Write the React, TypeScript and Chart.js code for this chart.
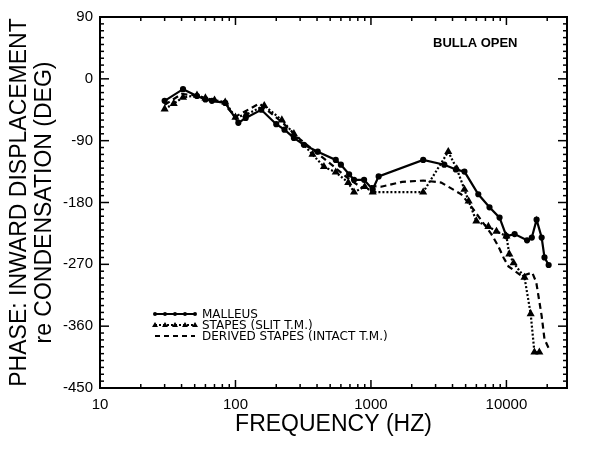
import React, { useEffect, useRef } from "react";
import { Chart, registerables } from "chart.js";

Chart.register(...registerables);

// ---- data (frequency in Hz, phase in degrees) ----
const malleusFreq = [30, 41, 52, 60, 67, 84, 105, 119, 155, 200, 230, 270, 320, 405, 550, 600, 690, 750, 890, 1030, 1140, 2430, 3480, 4240, 4900, 6200, 7500, 8900, 10000, 11500, 14200, 15400, 16700, 18200, 19100, 20500];
const malleusPhase = [-32, -15, -25, -30, -32, -35, -64, -57, -45, -66, -74, -86, -96, -106, -118, -125, -139, -147, -147, -161, -142, -118, -125, -132, -135, -168, -187, -202, -229, -226, -235, -231, -205, -231, -260, -271];

const stapesFreq = [30, 35, 41, 52, 60, 70, 84, 100, 120, 163, 220, 270, 370, 450, 550, 680, 750, 900, 1030, 2430, 3720, 4300, 4900, 5260, 6000, 7360, 8440, 10000, 10500, 11300, 13600, 15100, 16100, 17500];
const stapesPhase = [-44, -36, -27, -24, -28, -31, -34, -56, -52, -39, -60, -80, -110, -128, -136, -151, -165, -157, -165, -165, -106, -131, -161, -178, -207, -215, -222, -229, -255, -268, -289, -342, -398, -398];

const derivedFreq = [30, 40, 50, 60, 80, 100, 150, 220, 300, 400, 550, 700, 850, 1000, 1190, 1700, 2430, 3300, 4640, 5510, 7740, 8730, 9510, 10350, 13000, 15500, 16600, 18200, 19100, 20500];
const derivedPhase = [-38, -22, -24, -28, -34, -55, -36, -63, -88, -108, -130, -147, -158, -156, -157, -150, -148, -151, -168, -186, -226, -244, -260, -273, -287, -282, -296, -345, -379, -392];

const seriesNames = ["MALLEUS", "STAPES (SLIT T.M.)", "DERIVED STAPES (INTACT T.M.)"];
const xTickLabels = [10, 100, 1000, 10000];
const yTickValues = [90, 0, -90, -180, -270, -360, -450];
const annotationText = "BULLA OPEN";
const yTitle = ["PHASE: INWARD DISPLACEMENT", "re CONDENSATION (DEG)"];
const xTitle = "FREQUENCY (HZ)";

const toPoints = (xs: number[], ys: number[]) => xs.map((x, i) => ({ x, y: ys[i] }));

const FONT = "'Liberation Sans', Arial, sans-serif";

const framePlugin = {
  id: "frameTicks",
  afterDraw(chart: any) {
    const ctx = chart.ctx;
    const xs = chart.scales.x;
    const ys = chart.scales.y;
    const { left, right, top, bottom } = chart.chartArea;
    ctx.save();
    ctx.strokeStyle = "#000";
    ctx.lineWidth = 2;
    ctx.strokeRect(left, top, right - left, bottom - top);
    ctx.lineWidth = 1.5;
    const line = (x1: number, y1: number, x2: number, y2: number) => {
      ctx.beginPath();
      ctx.moveTo(x1, y1);
      ctx.lineTo(x2, y2);
      ctx.stroke();
    };
    for (let d = 1; d <= 4; d++) {
      for (let m = 1; m <= 9; m++) {
        const v = m * Math.pow(10, d);
        if (v < xs.min || v > xs.max) continue;
        const px = xs.getPixelForValue(v);
        const len = m === 1 ? 8 : 4;
        line(px, bottom, px, bottom - len);
        line(px, top, px, top + len);
      }
    }
    for (let v = -450; v <= 90; v += 10) {
      const py = ys.getPixelForValue(v);
      const len = v % 90 === 0 ? 9 : 4;
      line(left, py, left + len, py);
      line(right, py, right - len, py);
    }
    // annotation
    ctx.fillStyle = "#000";
    ctx.font = `bold 13px ${FONT}`;
    ctx.textBaseline = "middle";
    ctx.textAlign = "left";
    ctx.fillText(annotationText, 433, 43);

    // legend
    const lx0 = 155, lx1 = 195, tx = 202;
    const rows = [314, 325, 336];
    ctx.font = `12px 'DejaVu Sans', ${FONT}`;
    rows.forEach((ry, i) => {
      ctx.lineWidth = 2;
      if (i === 0) ctx.setLineDash([]);
      else if (i === 1) ctx.setLineDash([2, 2]);
      else ctx.setLineDash([5, 4]);
      line(lx0, ry, lx1, ry);
      ctx.setLineDash([]);
      if (i === 0) {
        for (let k = 0; k < 5; k++) {
          ctx.beginPath();
          ctx.arc(lx0 + k * 10, ry, 2, 0, Math.PI * 2);
          ctx.fill();
        }
      } else if (i === 1) {
        for (let k = 0; k < 5; k++) {
          const cx = lx0 + k * 10;
          ctx.beginPath();
          ctx.moveTo(cx, ry - 3);
          ctx.lineTo(cx + 3, ry + 2);
          ctx.lineTo(cx - 3, ry + 2);
          ctx.closePath();
          ctx.fill();
        }
      }
      ctx.fillText(seriesNames[i], tx, ry + 1);
    });
    ctx.restore();
  },
};

export default function App() {
  const ref = useRef<HTMLCanvasElement>(null);
  useEffect(() => {
    if (!ref.current) return;
    const chart = new Chart(ref.current, {
      type: "line",
      data: {
        datasets: [
          {
            label: seriesNames[0],
            data: toPoints(malleusFreq, malleusPhase),
            borderColor: "#000",
            backgroundColor: "#000",
            borderWidth: 2.2,
            pointRadius: 2,
            pointStyle: "circle",
            tension: 0,
          },
          {
            label: seriesNames[1],
            data: toPoints(stapesFreq, stapesPhase),
            borderColor: "#000",
            backgroundColor: "#000",
            borderWidth: 2.2,
            borderDash: [2, 2],
            pointRadius: 2.5,
            pointStyle: "triangle",
            tension: 0,
          },
          {
            label: seriesNames[2],
            data: toPoints(derivedFreq, derivedPhase),
            borderColor: "#000",
            backgroundColor: "#000",
            borderWidth: 2.2,
            borderDash: [6, 4],
            pointRadius: 0,
            tension: 0,
          },
        ],
      },
      options: {
        responsive: false,
        animation: false,
        layout: { padding: { top: 17, right: 33, left: 0, bottom: 0 } },
        plugins: { legend: { display: false }, tooltip: { enabled: false } },
        scales: {
          x: {
            type: "logarithmic",
            min: 10,
            max: 28000,
            grid: { display: false, drawTicks: false },
            border: { display: false },
            afterFit: (s: any) => {
              s.height = 61;
            },
            ticks: {
              autoSkip: false,
              maxRotation: 0,
              padding: 8,
              color: "#000",
              font: { family: FONT, size: 15 },
              callback: (v: any) => {
                const n = Number(v);
                return xTickLabels.some((t) => Math.abs(t - n) < 1e-6 * t) ? String(Math.round(n)) : "";
              },
            },
            title: {
              display: true,
              text: xTitle,
              color: "#000",
              font: { family: FONT, size: 23, lineHeight: 1.05 },
              padding: { top: 0, bottom: 12 },
            },
          },
          y: {
            type: "linear",
            min: -450,
            max: 90,
            grid: { display: false, drawTicks: false },
            border: { display: false },
            afterFit: (s: any) => {
              s.width = 100;
            },
            afterBuildTicks: (s: any) => {
              s.ticks = yTickValues.map((v) => ({ value: v }));
            },
            ticks: {
              padding: 7,
              color: "#000",
              font: { family: FONT, size: 15 },
            },
            title: {
              display: true,
              text: yTitle,
              color: "#000",
              font: { family: FONT, size: 23, lineHeight: 1.05 },
              padding: { top: 8, bottom: 0 },
            },
          },
        },
      },
      plugins: [framePlugin],
    });
    return () => chart.destroy();
  }, []);
  return (
    <div style={{ position: "absolute", left: 0, top: 0, width: 600, height: 449, background: "#fff" }}>
      <canvas ref={ref} width={600} height={449} style={{ display: "block" }} />
    </div>
  );
}
